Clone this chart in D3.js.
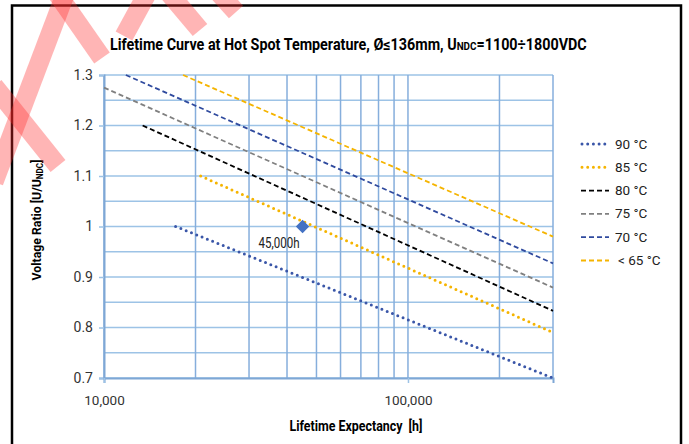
<!DOCTYPE html>
<html>
<head>
<meta charset="utf-8">
<script src="https://cdn.jsdelivr.net/npm/d3@7"></script>
<style>
  body { margin: 0; background: #fff; }
  text { font-family: Roboto, "Liberation Sans", sans-serif; }
</style>
</head>
<body>
<div id="chart"></div>
<script>
// series (hours, voltage ratio) - straight lines on log x
var seriesNames = ["90 °C", "85 °C", "80 °C", "75 °C", "70 °C", "< 65 °C"]
var lifeHours = [
  [17200, 300000],
  [20800, 300000],
  [13400, 300000],
  [10000, 300000],
  [11800, 300000],
  [18200, 300000]
]
var voltRatio = [
  [1.0, 0.70],
  [1.10, 0.79],
  [1.20, 0.833],
  [1.275, 0.879],
  [1.30, 0.927],
  [1.30, 0.98]
]
var markHours = [45000]
var markRatio = [1.0]
var markLabel = ["45,000h"]

var xTicks = [10000, 100000]
var xGrid = [20000, 30000, 40000, 50000, 60000, 70000, 80000, 90000, 200000]
var yTicks = [0.7, 0.8, 0.9, 1.0, 1.1, 1.2, 1.3]
var yGrid = [0.75, 0.85, 0.95, 1.05, 1.15, 1.25]

// look of each series
var lineColors = ["#3a56a8", "#f5b400", "#000000", "#808080", "#2f4a9e", "#f5b400"]
var lineDash = ["0 5.7", "0 5.7", "5 3", "5 3", "5 3", "5 3"]
var lineWidth = [3, 3, 1.8, 1.8, 1.8, 1.8]

var width = 689
var height = 444
var plot = { left: 104, right: 553, top: 75, bottom: 378 }

var svg = d3.select("#chart")
  .append("svg")
  .attr("width", width)
  .attr("height", height)

// squeeze a text horizontally to a given width (the original uses a condensed face)
function squeeze(sel, w, x0, y0) {
  var n = sel.node().getComputedTextLength()
  sel.attr("transform", "translate(" + x0 + "," + y0 + ") scale(" + (w / n) + ",1)")
}

// outer frame
svg.append("rect")
  .attr("x", 12)
  .attr("y", 5.5)
  .attr("width", 669)
  .attr("height", 460)
  .attr("fill", "none")
  .attr("stroke", "#000")
  .attr("stroke-width", 2.5)

var x = d3.scaleLog().domain([10000, 300000]).range([plot.left, plot.right])
var y = d3.scaleLinear().domain([0.7, 1.3]).range([plot.bottom, plot.top])

var grid = svg.append("g")
  .attr("stroke", "#9dc3e6")
  .attr("stroke-width", 1.5)

grid.selectAll(".hg")
  .data(yGrid.concat(yTicks))
  .enter()
  .append("line")
  .attr("x1", plot.left)
  .attr("x2", plot.right)
  .attr("y1", function (d) { return y(d) })
  .attr("y2", function (d) { return y(d) })

grid.selectAll(".vg")
  .data(xGrid.concat([10000, 100000, 300000]))
  .enter()
  .append("line")
  .attr("stroke", "#86aedc")
  .attr("x1", function (d) { return x(d) })
  .attr("x2", function (d) { return x(d) })
  .attr("y1", plot.top)
  .attr("y2", plot.bottom)

// axes
var yAxis = d3.axisLeft(y).tickValues(yTicks).tickSize(5).tickPadding(6)
  .tickFormat(function (d) { return d === 1 ? "1" : d3.format(".1f")(d) })
var gy = svg.append("g")
  .attr("transform", "translate(" + plot.left + ",0)")
  .call(yAxis)
gy.select(".domain").attr("stroke", "#7fa7d5").attr("stroke-width", 2)
gy.selectAll(".tick line").attr("stroke", "#9dc3e6").attr("stroke-width", 1.5)
gy.selectAll(".tick text").attr("font-size", 14).attr("fill", "#333")
  .attr("font-family", "Roboto")

var xAxis = d3.axisBottom(x).tickValues(xTicks).tickSize(5).tickPadding(12)
  .tickFormat(d3.format(","))
var gx = svg.append("g")
  .attr("transform", "translate(0," + plot.bottom + ")")
  .call(xAxis)
gx.select(".domain").attr("stroke", "#7fa7d5").attr("stroke-width", 2)
gx.selectAll(".tick line").attr("stroke", "#9dc3e6").attr("stroke-width", 1.5)
gx.selectAll(".tick text").attr("font-size", 13.5).attr("fill", "#333")
  .attr("font-family", "Roboto")

// curves
var line = d3.line()
  .x(function (d) { return x(d[0]) })
  .y(function (d) { return y(d[1]) })

var clip = svg.append("clipPath").attr("id", "clip")
clip.append("rect")
  .attr("x", plot.left - 2).attr("y", plot.top - 2)
  .attr("width", plot.right - plot.left + 4).attr("height", plot.bottom - plot.top + 4)

seriesNames.forEach(function (name, i) {
  var pts = lifeHours[i].map(function (h, j) { return [h, voltRatio[i][j]] })
  svg.append("path")
    .datum(pts)
    .attr("clip-path", "url(#clip)")
    .attr("d", line)
    .attr("fill", "none")
    .attr("stroke", lineColors[i])
    .attr("stroke-width", lineWidth[i])
    .attr("stroke-dasharray", lineDash[i])
    .attr("stroke-linecap", i < 2 ? "round" : "butt")
})

// 45,000h marker
svg.selectAll(".mark")
  .data(markHours)
  .enter()
  .append("path")
  .attr("d", d3.symbol().type(d3.symbolSquare).size(90))
  .attr("transform", function (d, i) {
    return "translate(" + x(d) + "," + y(markRatio[i]) + ") rotate(45)"
  })
  .attr("fill", "#4472c4")

svg.selectAll(".markLabel")
  .data(markHours)
  .enter()
  .append("text")
  .attr("x", function (d) { return x(d) - 44 })
  .attr("y", function (d, i) { return y(markRatio[i]) + 21 })
  .attr("font-size", 14.5)
  .attr("fill", "#222")
  .attr("textLength", 41)
  .attr("lengthAdjust", "spacingAndGlyphs")
  .text(function (d, i) { return markLabel[i] })

// title
var title = svg.append("text")
  .attr("font-size", 16)
  .attr("font-weight", "bold")
  .attr("fill", "#000")
title.append("tspan").text("Lifetime Curve at Hot Spot Temperature, Ø≤136mm, U")
title.append("tspan").attr("font-size", 11).text("NDC")
title.append("tspan").text("=1100÷1800VDC")
squeeze(title, 477, 110, 50)

// axis titles
var yl = svg.append("text")
  .attr("text-anchor", "middle")
  .attr("font-size", 13)
  .attr("font-weight", "bold")
yl.append("tspan").text("Voltage Ratio [U/U")
yl.append("tspan").attr("font-size", 8.5).attr("dy", 2).text("NDC")
yl.append("tspan").attr("dy", -2).text("]")
var ylw = yl.node().getComputedTextLength()
yl.attr("transform", "translate(41,220) rotate(-90) scale(" + (121 / ylw) + ",1)")

var xl = svg.append("text")
  .attr("text-anchor", "middle")
  .attr("font-size", 14)
  .attr("font-weight", "bold")
  .attr("xml:space", "preserve")
  .text("Lifetime Expectancy  [h]")
squeeze(xl, 133, 356, 431)

// legend
var legend = svg.selectAll(".legend")
  .data(seriesNames)
  .enter()
  .append("g")
  .attr("transform", function (d, i) { return "translate(581," + (144 + i * 23.3) + ")" })

legend.append("line")
  .attr("x1", function (d, i) { return i < 2 ? 1 : 0 })
  .attr("x2", 28)
  .attr("stroke", function (d, i) { return lineColors[i] })
  .attr("stroke-width", function (d, i) { return lineWidth[i] })
  .attr("stroke-dasharray", function (d, i) { return lineDash[i] })
  .attr("stroke-linecap", function (d, i) { return i < 2 ? "round" : "butt" })

legend.append("text")
  .attr("x", function (d, i) { return i === 5 ? 37 : 34 })
  .attr("y", 4.5)
  .attr("font-size", 13.5)
  .attr("fill", "#222")
  .text(function (d) { return d })

// watermark strokes (faint red, drawn over the chart like the original)
var wm = svg.append("g")
  .attr("fill", "none")
  .attr("stroke", "#ff2a2a")
  .attr("stroke-opacity", 0.35)
  .attr("stroke-width", 19)
wm.append("path").attr("d", "M-6,182 L66,-8")
wm.append("path").attr("d", "M-6,86 L58,166")
wm.append("path").attr("d", "M56,-8 L102,58")
wm.append("path").attr("d", "M124,36 L148,-8")
wm.append("path").attr("d", "M168,-8 L200,30")
wm.append("path").attr("d", "M218,-8 L236,12")
</script>
</body>
</html>
